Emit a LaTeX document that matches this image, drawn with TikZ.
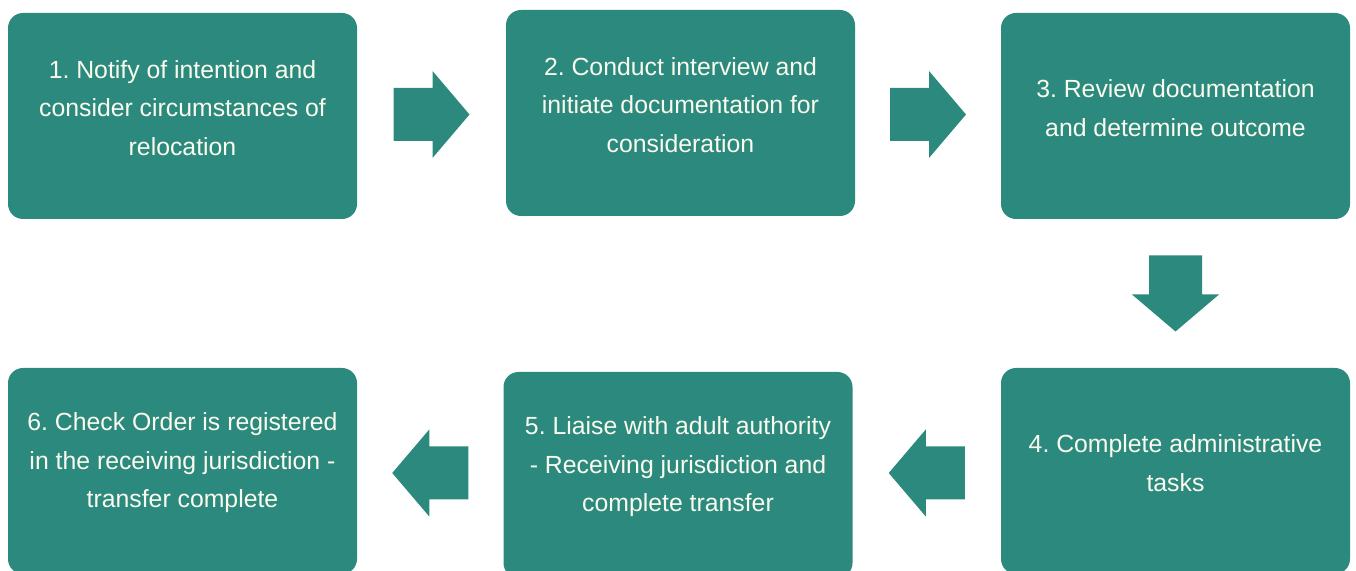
\documentclass[tikz,border=0pt]{standalone}
\usepackage{fontspec}
\setmainfont{Liberation Sans}
\frenchspacing
\usepackage{tikz}
\usetikzlibrary{calc}
\definecolor{StepTeal}{RGB}{43,138,125}
\definecolor{StepText}{RGB}{250,250,238}
\tikzset{
    stepbox/.style={
      rectangle,
      fill=StepTeal,
      rounded corners=7.5pt,
      minimum width=174.5pt,
      minimum height=103pt,
      inner sep=0pt
    },
    steptext/.style={
      text=StepText,
      align=center,
      font=\fontsize{12.4}{19.25}\selectfont,
      inner sep=0pt
    },
    flowarrow/.style={
      fill=StepTeal
    },
}
\newcommand{\blockarrow}[2]{%
  \fill[flowarrow,shift={(#1)},rotate=#2]
    (-19pt,-13.25pt) -- (0.5pt,-13.25pt) -- (0.5pt,-21.75pt) -- (19pt,0pt)
    -- (0.5pt,21.75pt) -- (0.5pt,13.25pt) -- (-19pt,13.25pt) -- cycle;}

\begin{document}
\begin{tikzpicture}[x=0.5pt,y=-0.5pt]
    \useasboundingbox (0,0) rectangle (1356,571);

    % top row
    \node[stepbox] at (182.5,116) (s1) {};
    \node[stepbox] at (680.5,113) (s2) {};
    \node[stepbox] at (1175.5,116) (s3) {};
    % bottom row
    \node[stepbox] at (1175.5,471) (s4) {};
    \node[stepbox] at (678,475) (s5) {};
    \node[stepbox] at (182.5,471) (s6) {};

    \node[steptext] at ([yshift=4pt]s1.center) (t1) {1. Notify of intention and\\consider circumstances of\\relocation};
    \node[steptext] at ([yshift=4pt]s2.center) (t2) {2. Conduct interview and\\initiate documentation for\\consideration};
    \node[steptext] at ([yshift=4pt]s3.center) (t3) {3. Review documentation\\and determine outcome};
    \node[steptext] at ([yshift=4pt]s4.center) (t4) {4. Complete administrative\\tasks};
    \node[steptext] at ([yshift=4pt]s5.center) (t5) {5. Liaise with adult authority\\- Receiving jurisdiction and\\complete transfer};
    \node[steptext] at ([yshift=4pt]s6.center) (t6) {6. Check Order is registered\\in the receiving jurisdiction -\\transfer complete};

    \coordinate (m12) at ($(s1.east)!0.5!(s2.west)$);
    \coordinate (m23) at ($(s2.east)!0.5!(s3.west)$);
    \coordinate (m34) at ($(s3.south)!0.5!(s4.north)$);
    \coordinate (m45) at ($(s4.west)!0.5!(s5.east)$);
    \coordinate (m56) at ($(s5.west)!0.5!(s6.east)$);

    \blockarrow{m12}{0}
    \blockarrow{m23}{0}
    \blockarrow{m34}{-90}
    \blockarrow{m45}{180}
    \blockarrow{m56}{180}

\end{tikzpicture}
\end{document}
